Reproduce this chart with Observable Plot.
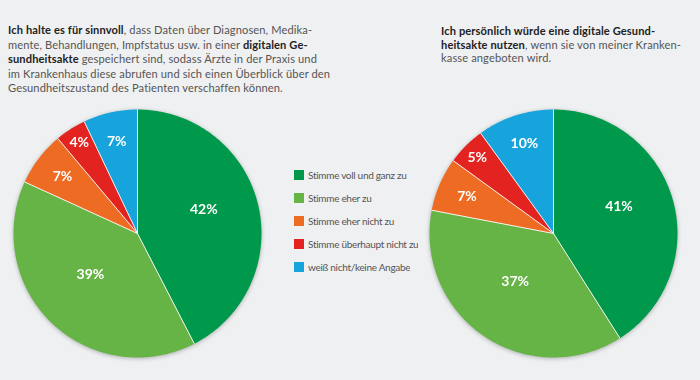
<!DOCTYPE html>
<html><head><meta charset="utf-8">
<script src="https://cdn.jsdelivr.net/npm/d3@7"></script>
<script src="https://cdn.jsdelivr.net/npm/@observablehq/plot@0.6"></script>
<style>
html,body{margin:0;padding:0;background:#eff0f2;}
#wrap{position:relative;width:700px;height:380px;overflow:hidden;background:#eff0f2;font-family:Lato,"Open Sans",sans-serif;}
.title{position:absolute;font-size:11.1px;letter-spacing:0.12px;color:#555;white-space:nowrap;}
.title b{color:#222;}
.pie{position:absolute;}
.pie svg{filter:drop-shadow(0 1px 2px rgba(0,0,0,0.28));}
#legend{position:absolute;left:294px;top:163px;}
#legend, #legend *{font-family:Lato,"Open Sans",sans-serif !important;font-size:10px !important;letter-spacing:-0.3px;color:#555 !important;}
#legend [class$="-swatch"]{display:flex;align-items:center;height:23px;margin:0;padding:0;}
#legend svg{margin-right:4px;}
</style></head>
<body><div id="wrap">
<div class="title" style="left:8px;top:23px;line-height:14.5px;"><b>Ich halte es für sinnvoll</b>, dass Daten über Diagnosen, Medika-<br>mente, Behandlungen, Impfstatus usw. in einer <b>digitalen Ge-<br>sundheitsakte</b> gespeichert sind, sodass Ärzte in der Praxis und<br>im Krankenhaus diese abrufen und sich einen Überblick über den<br>Gesundheitszustand des Patienten verschaffen können.</div>
<div class="title" style="left:441px;top:24px;line-height:13.5px;"><b>Ich persönlich würde eine digitale Gesund-<br>heitsakte nutzen</b>, wenn sie von meiner Kranken-<br>kasse angeboten wird.</div>
<div class="pie" id="pieLeft" style="left:7px;top:103px;"></div>
<div class="pie" id="pieRight" style="left:423px;top:103px;"></div>
<div id="legend"></div>
</div>
<script>
const categories = ["Stimme voll und ganz zu","Stimme eher zu","Stimme eher nicht zu","Stimme überhaupt nicht zu","weiß nicht/keine Angabe"];
const colors = ["#00984a","#66b446","#ee6b23","#e2231f","#17a4dd"];
const valuesLeft = [42,39,7,4,7];
const valuesRight = [41,37,7,5,10];

const colorScale = {domain: categories, range: colors};

function labelRadius(v){ return v >= 20 ? 0.55 : (v > 5 ? 0.76 : 0.87); }

function pieChart(values){
  const arcs = d3.pie().sort(null).value(d => d)(values);
  const polys = [];
  const seps = [];
  const labels = [];
  arcs.forEach((a, i) => {
    const cat = categories[i];
    polys.push({cat, x: 0, y: 0});
    const n = Math.max(2, Math.ceil((a.endAngle - a.startAngle) / (Math.PI / 180)));
    for (let k = 0; k <= n; k++) {
      const t = a.startAngle + (a.endAngle - a.startAngle) * k / n;
      polys.push({cat, x: Math.sin(t), y: Math.cos(t)});
    }
    seps.push({x: Math.sin(a.startAngle), y: Math.cos(a.startAngle)});
    const m = (a.startAngle + a.endAngle) / 2, r = labelRadius(a.data);
    labels.push({x: r * Math.sin(m), y: r * Math.cos(m), text: a.data + "%", big: a.data >= 20});
  });
  return Plot.plot({
    width: 260, height: 260, margin: 6,
    x: {domain: [-1, 1], axis: null},
    y: {domain: [-1, 1], axis: null},
    color: colorScale,
    style: {background: "transparent", overflow: "visible"},
    marks: [
      Plot.line(polys, {x: "x", y: "y", z: "cat", fill: "cat", stroke: "none", curve: "linear-closed"}),
      Plot.link(seps, {x1: 0, y1: 0, x2: "x", y2: "y", stroke: "white", strokeWidth: 1, strokeOpacity: 0.9}),
      Plot.text(labels.filter(d => d.big), {x: "x", y: "y", text: "text", dy: -8, fill: "white", fontWeight: "bold", fontSize: 14, fontFamily: "Lato, 'Open Sans', sans-serif"}),
      Plot.text(labels.filter(d => !d.big), {x: "x", y: "y", text: "text", fill: "white", fontWeight: "bold", fontSize: 14, fontFamily: "Lato, 'Open Sans', sans-serif"})
    ]
  });
}

document.getElementById("pieLeft").append(pieChart(valuesLeft));
document.getElementById("pieRight").append(pieChart(valuesRight));
document.getElementById("legend").append(Plot.legend({
  color: colorScale, legend: "swatches", columns: 1, swatchSize: 10,
  style: {background: "transparent"}
}));
</script>
</body></html>
